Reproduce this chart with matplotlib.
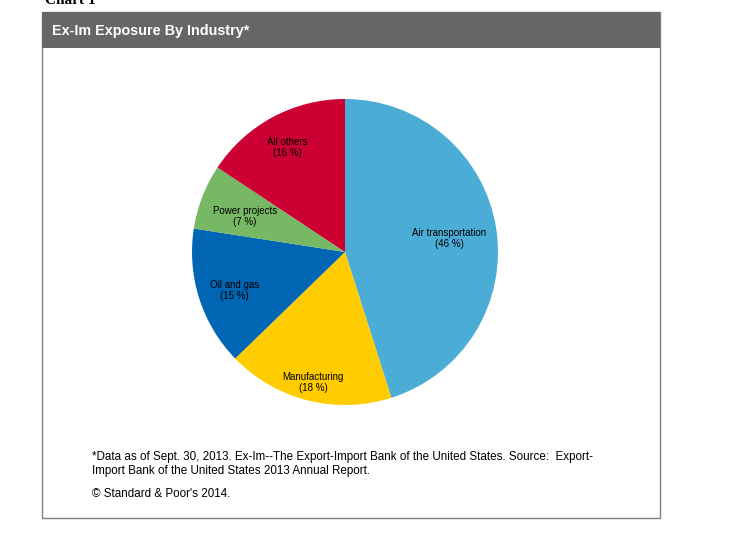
import numpy as np
import matplotlib.pyplot as plt
from matplotlib.patches import Rectangle

plt.rcParams['font.family'] = ['Liberation Sans', 'DejaVu Sans']

# data
industries = ['Air transportation', 'Manufacturing', 'Oil and gas', 'Power projects', 'All others']
shares = [46, 18, 15, 7, 16]
colors = ['#4BACD6', '#FFCC00', '#0066B3', '#77B865', '#CC0033']
label_dist = [0.69, 0.86, 0.76, 0.70, 0.80]

W, H = 736, 541
fig = plt.figure(figsize=(W / 100, H / 100), dpi=100)

def px(x, y):
    return x / W, 1 - y / H

# frame + header bar
fig.patches.append(Rectangle(px(42, 518), 618 / W, 506 / H, transform=fig.transFigure,
                             facecolor='none', edgecolor='#808080', linewidth=1))
fig.patches.append(Rectangle(px(42, 48), 618 / W, 36 / H, transform=fig.transFigure,
                             facecolor='#666666', edgecolor='none'))
fig.text(*px(52, 31), 'Ex-Im Exposure By Industry*', color='white', fontsize=10.4,
         fontweight='bold', va='center', ha='left')
fig.text(*px(45, 0), 'Chart 1', family='Liberation Serif', fontsize=11,
         fontweight='bold', va='center', ha='left')

# pie
cx, cy, r = 345, 252, 153
ax = fig.add_axes([(cx - r) / W, (H - cy - r) / H, 2 * r / W, 2 * r / H])
wedges, _ = ax.pie(shares, colors=colors, startangle=90, counterclock=False,
                   wedgeprops=dict(linewidth=0))
ax.set_xlim(-1, 1)
ax.set_ylim(-1, 1)
ax.set_aspect('equal')
ax.axis('off')

for w, name, s, d in zip(wedges, industries, shares, label_dist):
    mid = np.deg2rad((w.theta1 + w.theta2) / 2)
    ax.text(d * np.cos(mid), d * np.sin(mid) - 0.02, f'{name}\n({s} %)', ha='center',
            va='center', fontsize=7, linespacing=1.15)

# footnotes
fig.text(*px(92, 464), '*Data as of Sept. 30, 2013. Ex-Im--The Export-Import Bank of the United States. Source:  Export-\n'
         'Import Bank of the United States 2013 Annual Report.', fontsize=8.4, va='center', ha='left',
         linespacing=1.2)
fig.text(*px(92, 494), '\u00a9 Standard & Poor\'s 2014.', fontsize=8.4, va='center', ha='left')

fig.savefig('out.png', dpi=100)
